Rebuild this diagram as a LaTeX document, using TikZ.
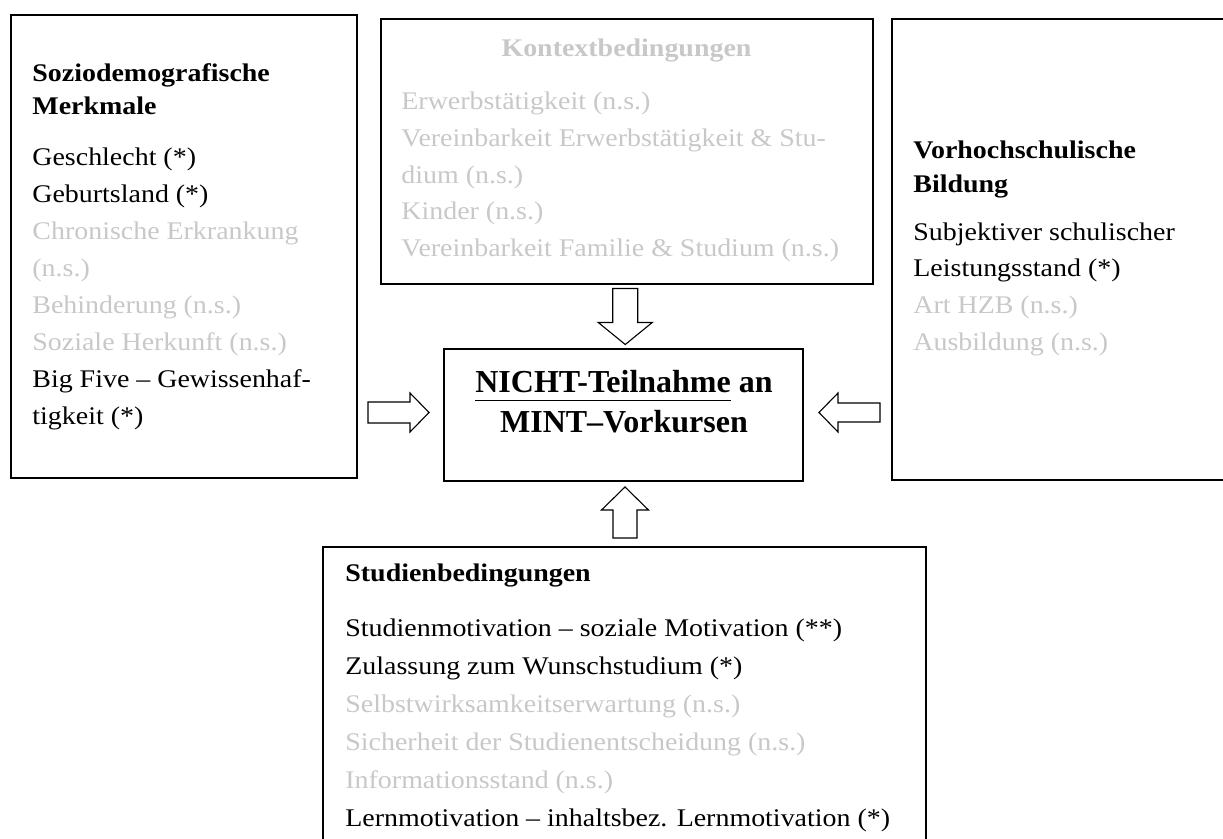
\documentclass[tikz,border=0pt]{standalone}
\usepackage{fontspec}
\setmainfont[FakeStretch=1.1]{Liberation Serif}
\newfontfamily\ctrfont{Liberation Serif}
\usetikzlibrary{fit,calc}
\definecolor{nsgray}{RGB}{200,200,200}
\newcommand\myul[1]{\setbox0\hbox{#1}\rlap{\rule[-4pt]{\wd0}{0.6pt}}\box0\relax}
% block arrow: #1 centre coordinate, #2 rotation, #3 length, #4 shaft width, #5 head width, #6 head length (px)
\newcommand\blockarrow[6]{%
  \begin{scope}[shift={(#1)}, rotate=#2]
    \draw[barrow] ({-#3/2},{-#4/2}) -- ({#3/2-#6},{-#4/2}) -- ({#3/2-#6},{-#5/2})
      -- ({#3/2},0) -- ({#3/2-#6},{#5/2}) -- ({#3/2-#6},{#4/2}) -- ({-#3/2},{#4/2}) -- cycle;
  \end{scope}}
\begin{document}
\begin{tikzpicture}[x=0.5pt,y=-0.5pt,
  box/.style={draw, line width=1.1pt, inner sep=0pt},
  txt/.style={anchor=base west, inner sep=0pt, font=\fontsize{12.7pt}{15pt}\selectfont},
  hd/.style={anchor=base west, inner sep=0pt, font=\fontsize{12.7pt}{15pt}\selectfont\bfseries},
  ns/.style={text=nsgray},
  ctr/.style={anchor=base, inner sep=0pt, font=\ctrfont\fontsize{16pt}{19pt}\selectfont\bfseries},
  barrow/.style={draw, fill=white, line width=0.55pt, line join=miter}]
\useasboundingbox (0,0) rectangle (1223,839);
\clip (0,0) rectangle (1223,839);

% boxes
\node[box, fit={(11,15) (357,478)}] (soc) {};
\node[box, fit={(381,19) (873,284)}] (ctx) {};
\node[box, fit={(892,19) (1240,480)}] (vor) {};
\node[box, fit={(444,349) (803,481)}] (ctrbox) {};
\node[box, fit={(323,547) (926,870)}] (stu) {};

% left box text
\node[hd] (s0) at (32,82) {Soziodemografische};
\node[hd] (s1) at (32,115) {Merkmale};
\node[txt] (s2) at (32,166) {Geschlecht (*)};
\node[txt] (s3) at (32,203) {Geburtsland (*)};
\node[txt,ns] (s4) at (32,240) {Chronische Erkrankung};
\node[txt,ns] (s5) at (32,277) {(n.s.)};
\node[txt,ns] (s6) at (32,314) {Behinderung (n.s.)};
\node[txt,ns] (s7) at (32,351) {Soziale Herkunft (n.s.)};
\node[txt] (s8) at (32,388) {Big Five – Gewissenhaf-};
\node[txt] (s9) at (32,425) {tigkeit (*)};

% context box text
\node[hd,ns,anchor=base] (c0) at (626.5,57) {Kontextbedingungen};
\node[txt,ns] (c1) at (401,110) {Erwerbstätigkeit (n.s.)};
\node[txt,ns] (c2) at (401,147) {Vereinbarkeit Erwerbstätigkeit \& Stu-};
\node[txt,ns] (c3) at (401,184) {dium (n.s.)};
\node[txt,ns] (c4) at (401,220) {Kinder (n.s.)};
\node[txt,ns] (c5) at (401,257) {Vereinbarkeit Familie \& Studium (n.s.)};

% right box text
\node[hd] (v0) at (913,159) {Vorhochschulische};
\node[hd] (v1) at (913,193) {Bildung};
\node[txt] (v2) at (913,241) {Subjektiver schulischer};
\node[txt] (v3) at (913,277) {Leistungsstand (*)};
\node[txt,ns] (v4) at (913,314) {Art HZB (n.s.)};
\node[txt,ns] (v5) at (913,351) {Ausbildung (n.s.)};

% study box text
\node[hd] (b0) at (345,582) {Studienbedingungen};
\node[txt] (b1) at (345,637) {Studienmotivation – soziale Motivation (**)};
\node[txt] (b2) at (345,675) {Zulassung zum Wunschstudium (*)};
\node[txt,ns] (b3) at (345,713) {Selbstwirksamkeitserwartung (n.s.)};
\node[txt,ns] (b4) at (345,751) {Sicherheit der Studienentscheidung (n.s.)};
\node[txt,ns] (b5) at (345,789) {Informationsstand (n.s.)};
\node[txt] (b6) at (345,827) {Lernmotivation – inhaltsbez. Lernmotivation (*)};

% centre text
\node[ctr] (t1) at (624,393) {\myul{NICHT-Teilnahme} an};
\node[ctr] (t2) at (624,433) {MINT–Vorkursen};

% block arrows between the boxes
\coordinate (adown) at ($(ctx.south)!0.5!(ctrbox.north)$);
\coordinate (aleft) at ($(soc.east |- ctrbox.west)!0.5!(ctrbox.west)+(-2,-2.5)$);
\coordinate (aright) at ($(ctrbox.east)!0.5!(vor.west |- ctrbox.east)+(2,-2.5)$);
\coordinate (aup) at ($(ctrbox.south)!0.5!(stu.north)+(1,-1.5)$);
\blockarrow{adown}{270}{56}{25}{54}{22}
\blockarrow{aleft}{0}{61}{21}{39}{19}
\blockarrow{aright}{180}{61}{19}{39}{19}
\blockarrow{aup}{90}{51}{24}{47}{23}
\end{tikzpicture}
\end{document}
